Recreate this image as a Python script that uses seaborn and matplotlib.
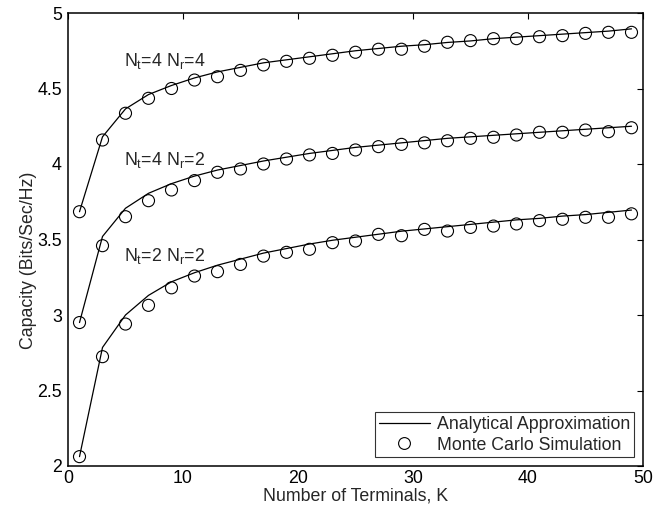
import matplotlib
matplotlib.use("Agg")
import matplotlib.pyplot as plt
import seaborn as sns
import pandas as pd
import numpy as np
from matplotlib.lines import Line2D

K = list(range(1, 50, 2))

sim_44 = [3.684, 4.159, 4.336, 4.435, 4.50, 4.556, 4.578, 4.62, 4.656, 4.68,
          4.70, 4.72, 4.74, 4.76, 4.76, 4.78, 4.806, 4.817, 4.83, 4.83,
          4.843, 4.85, 4.865, 4.872, 4.872]
ana_44 = [3.684, 4.18, 4.365, 4.46, 4.52, 4.57, 4.61, 4.64, 4.67, 4.69,
          4.71, 4.73, 4.75, 4.765, 4.78, 4.79, 4.805, 4.815, 4.83, 4.84,
          4.85, 4.86, 4.87, 4.88, 4.895]

sim_42 = [2.95, 3.459, 3.651, 3.757, 3.828, 3.89, 3.945, 3.967, 4.0, 4.033,
          4.06, 4.07, 4.093, 4.115, 4.13, 4.14, 4.154, 4.17, 4.177, 4.192,
          4.21, 4.21, 4.225, 4.214, 4.24]
ana_42 = [2.95, 3.52, 3.707, 3.806, 3.87, 3.92, 3.96, 3.99, 4.02, 4.045,
          4.07, 4.09, 4.11, 4.125, 4.14, 4.155, 4.17, 4.18, 4.19, 4.20,
          4.21, 4.22, 4.23, 4.24, 4.25]

sim_22 = [2.062, 2.724, 2.94, 3.064, 3.18, 3.258, 3.287, 3.335, 3.39, 3.415,
          3.435, 3.479, 3.49, 3.534, 3.525, 3.567, 3.556, 3.58, 3.589, 3.603,
          3.625, 3.634, 3.647, 3.647, 3.67]
ana_22 = [2.062, 2.785, 3.0, 3.13, 3.22, 3.28, 3.33, 3.37, 3.41, 3.44,
          3.47, 3.495, 3.515, 3.535, 3.555, 3.57, 3.585, 3.60, 3.615, 3.63,
          3.64, 3.655, 3.665, 3.68, 3.695]

series_names = ["4x4", "4x2", "2x2"]
labels = [r"N$_\mathregular{t}$=4 N$_\mathregular{r}$=4",
          r"N$_\mathregular{t}$=4 N$_\mathregular{r}$=2",
          r"N$_\mathregular{t}$=2 N$_\mathregular{r}$=2"]
label_x = [4.9, 4.9, 4.9]
label_y = [4.684, 4.026, 3.39]

rows = []
for name, a, s in zip(series_names, [ana_44, ana_42, ana_22], [sim_44, sim_42, sim_22]):
    for k, av, sv in zip(K, a, s):
        rows.append({"K": k, "series": name, "ana": av, "sim": sv})
df = pd.DataFrame(rows)

sns.set_theme(style="white")
plt.rcParams["font.family"] = ["Liberation Sans", "DejaVu Sans"]
plt.rcParams["mathtext.fontset"] = "custom"
plt.rcParams["mathtext.rm"] = "Liberation Sans"

FS = 12.8

fig = plt.figure(figsize=(6.66, 5.12), dpi=100)
ax = fig.add_axes([68/666, 1 - 466/512, (643-68)/666, (466-13)/512])

sns.lineplot(data=df, x="K", y="ana", units="series", estimator=None,
             color="black", lw=0.9, ax=ax, legend=False, sort=False)
sns.scatterplot(data=df, x="K", y="sim", ax=ax, marker="o", s=75,
                facecolor="none", edgecolor="black", linewidth=0.8, legend=False, zorder=3)

for t, x, y in zip(labels, label_x, label_y):
    ax.text(x, y, t, fontsize=FS, va="center", ha="left")

ax.set_xlim(0, 50)
ax.set_ylim(2, 5)
ax.set_xticks([0, 10, 20, 30, 40, 50])
ax.set_yticks([2, 2.5, 3, 3.5, 4, 4.5, 5])
ax.set_yticklabels(["2", "2.5", "3", "3.5", "4", "4.5", "5"])
ax.tick_params(direction="in", length=4, width=0.8, top=True, right=True,
               labelsize=FS, colors="black")
ax.tick_params(axis="x", pad=3)
ax.tick_params(axis="y", pad=4.5)
for sp in ax.spines.values():
    sp.set_color("black")
    sp.set_linewidth(1.1)
    sp.set_visible(True)

ax.set_xlabel("Number of Terminals, K", fontsize=FS, labelpad=0)
ax.set_ylabel("Capacity (Bits/Sec/Hz)", fontsize=FS)
ax.yaxis.set_label_coords(-0.054, 0.455)

handles = [Line2D([0], [0], color="black", lw=0.9),
           Line2D([0], [0], color="black", lw=0, marker="o", markersize=8.5,
                  markerfacecolor="none", markeredgewidth=0.8)]
leg = ax.legend(handles, ["Analytical Approximation", "Monte Carlo Simulation"],
                loc="lower right", fontsize=FS, frameon=True, fancybox=False,
                edgecolor="black", borderpad=0.2, handlelength=2.9,
                labelspacing=0.2, borderaxespad=0.5, handletextpad=0.4)
leg.get_frame().set_linewidth(0.8)

fig.savefig("out.png", dpi=100)
